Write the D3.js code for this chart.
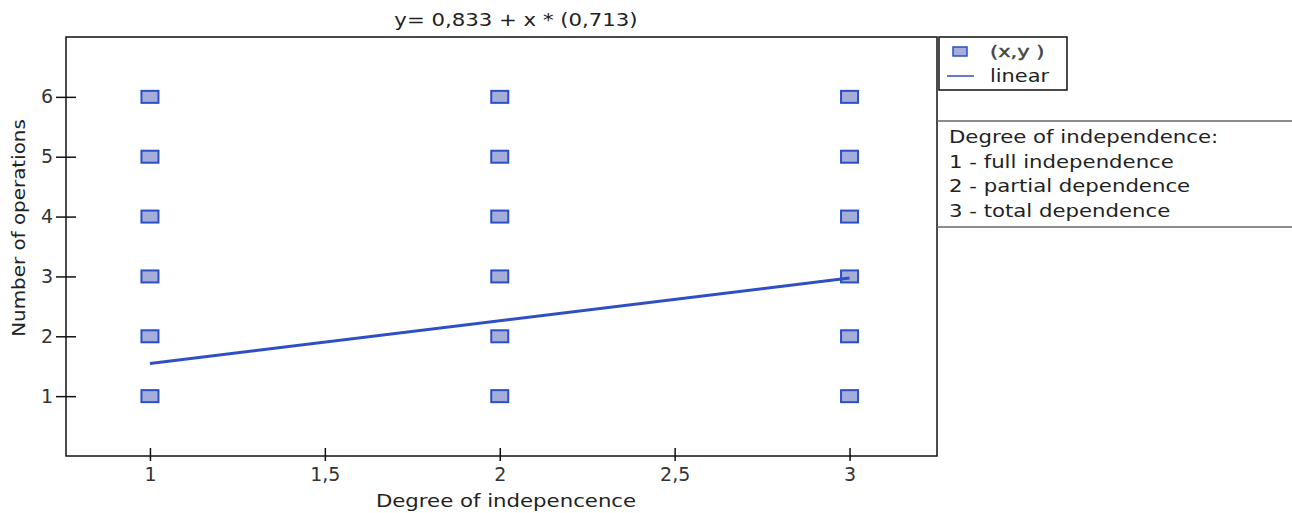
<!DOCTYPE html>
<html>
<head>
<meta charset="utf-8">
<script src="https://cdn.jsdelivr.net/npm/d3@7"></script>
<style>
  html, body { margin: 0; padding: 0; background: #fff; }
  svg { display: block; }
</style>
</head>
<body>
<svg id="chart" width="1292" height="513"></svg>
<script>
// Observed (x, y) pairs: degree of independence vs number of operations
const degrees = [1, 2, 3];
const operations = [1, 2, 3, 4, 5, 6];
// Fitted linear model y = a + b * x
const intercept = 0.833;
const slope = 0.713;
const xTicks = [1, 1.5, 2, 2.5, 3];
const yTicks = [1, 2, 3, 4, 5, 6];
const noteLines = ["Degree of independence:", "1 - full independence", "2 - partial dependence", "3 - total dependence"];

const points = [];
degrees.forEach(d => operations.forEach(o => points.push({ x: d, y: o })));

const svg = d3.select("#chart");
const plot = { left: 66, top: 37, right: 937, bottom: 456 };

const x = d3.scaleLinear().domain([0.76, 3.25]).range([plot.left, plot.right]);
const y = d3.scaleLinear().domain([0, 7]).range([plot.bottom, plot.top]);

const fmt = v => String(v).replace(".", ",");
const textFont = "'DejaVu Sans', sans-serif";

// Text drawn with a wide horizontal stretch
function wideText(parent, tx, ty, str, opts = {}) {
  const sx = opts.sx || 1.25;
  const rot = opts.rotate || 0;
  return parent.append("text")
    .attr("transform", `translate(${tx},${ty}) rotate(${rot}) scale(${sx},1)`)
    .attr("text-anchor", opts.anchor || "start")
    .style("font-family", textFont)
    .style("font-size", (opts.size || 17) + "px")
    .attr("fill", opts.fill || "#222")
    .attr("stroke", opts.stroke || "none")
    .attr("stroke-width", opts.stroke ? 0.4 : 0)
    .text(str);
}

// Frame
svg.append("rect")
  .attr("x", plot.left).attr("y", plot.top)
  .attr("width", plot.right - plot.left).attr("height", plot.bottom - plot.top)
  .attr("fill", "none").attr("stroke", "#111").attr("stroke-width", 1.5);

// Y axis ticks crossing the frame
const yAxis = svg.append("g").attr("transform", `translate(${plot.left},0)`)
  .call(d3.axisLeft(y).tickValues(yTicks).tickSize(10).tickFormat(fmt));
yAxis.select(".domain").remove();
yAxis.selectAll(".tick line").attr("x2", 10).attr("x1", -10).attr("stroke", "#111").attr("stroke-width", 1.5);
yAxis.selectAll(".tick text").attr("x", -13)
  .style("font-family", textFont).style("font-size", "19px").attr("fill", "#333");

// X axis ticks crossing the frame
const xAxis = svg.append("g").attr("transform", `translate(0,${plot.bottom})`)
  .call(d3.axisBottom(x).tickValues(xTicks).tickSize(8).tickFormat(fmt));
xAxis.select(".domain").remove();
xAxis.selectAll(".tick line").attr("y1", -8).attr("y2", 5).attr("stroke", "#111").attr("stroke-width", 1.5);
xAxis.selectAll(".tick text").attr("y", 12)
  .style("font-family", textFont).style("font-size", "19px").attr("fill", "#333");

// Title
wideText(svg, 516, 26, `y= ${fmt(intercept)} + x * (${fmt(slope)})`, { anchor: "middle" });

// Axis titles
wideText(svg, 506, 507, "Degree of indepencence", { anchor: "middle" });
wideText(svg, 25, 228, "Number of operations", { anchor: "middle", rotate: -90, sx: 1.17 });

// Markers
const mw = 17, mh = 12;
svg.append("g").selectAll("rect").data(points).join("rect")
  .attr("x", d => x(d.x) - mw / 2).attr("y", d => y(d.y) - mh / 2)
  .attr("width", mw).attr("height", mh)
  .attr("fill", "#a4aed8").attr("stroke", "#2a4fc8").attr("stroke-width", 2);

// Regression line
const xr = d3.extent(degrees);
svg.append("path")
  .datum(xr.map(v => ({ x: v, y: intercept + slope * v })))
  .attr("d", d3.line().x(d => x(d.x)).y(d => y(d.y)))
  .attr("fill", "none").attr("stroke", "#2f4fc4").attr("stroke-width", 3);

// Legend box
const lg = svg.append("g");
lg.append("rect").attr("x", 939).attr("y", 37).attr("width", 128).attr("height", 53)
  .attr("fill", "#fff").attr("stroke", "#111").attr("stroke-width", 1.5);
lg.append("rect").attr("x", 953).attr("y", 47).attr("width", 14).attr("height", 9)
  .attr("fill", "#a4aed8").attr("stroke", "#2a4fc8").attr("stroke-width", 1.5);
wideText(lg, 990, 57, "(x,y )", { size: 15, sx: 1.4, fill: "#444", stroke: "#444" });
lg.append("line").attr("x1", 947).attr("x2", 974).attr("y1", 76).attr("y2", 76)
  .attr("stroke", "#2f4fc4").attr("stroke-width", 1.5);
wideText(lg, 990, 82, "linear", { sx: 1.23 });

// Explanatory note block
svg.append("line").attr("x1", 937).attr("x2", 1292).attr("y1", 121).attr("y2", 121)
  .attr("stroke", "#666").attr("stroke-width", 1.5);
svg.append("line").attr("x1", 937).attr("x2", 1292).attr("y1", 227).attr("y2", 227)
  .attr("stroke", "#666").attr("stroke-width", 1.5);
const notes = svg.append("g");
noteLines.forEach((t, i) => wideText(notes, 949, 143 + i * 24.5, t));
</script>
</body>
</html>
